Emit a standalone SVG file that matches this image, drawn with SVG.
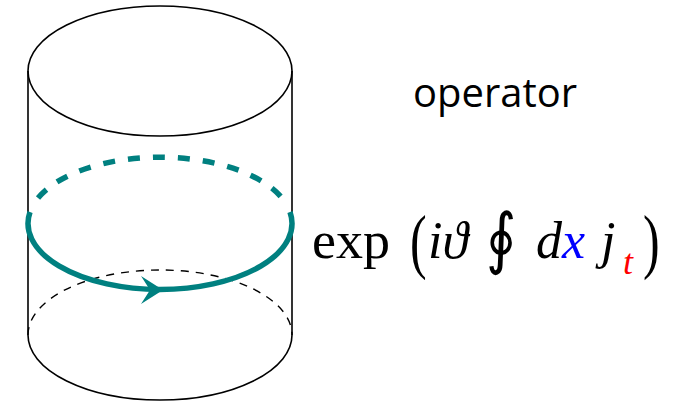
<svg xmlns="http://www.w3.org/2000/svg" width="690" height="402" viewBox="0 0 690 402">
<style>
.cyl{fill:none;stroke:#000;stroke-width:1.6}
.dash{fill:none;stroke:#000;stroke-width:1.4;stroke-dasharray:8 7}
.loop{fill:none;stroke:#008080;stroke-width:5.5}
.m{font-family:"Liberation Serif","DejaVu Serif",serif;fill:#000}
.mi{font-family:"Liberation Serif","DejaVu Serif",serif;font-style:italic}
</style>
<rect width="690" height="402" fill="#fff"/>
<g id="cylinder">
<ellipse class="cyl" cx="160" cy="71" rx="132" ry="65"/>
<line class="cyl" x1="28" y1="71" x2="28" y2="335"/>
<line class="cyl" x1="292" y1="71" x2="292" y2="335"/>
<path class="cyl" d="M28 335 A132 65 0 0 0 292 335"/>
<path class="dash" d="M28 335 A132 65 0 0 1 292 335"/>
</g>
<g id="loop">
<path class="loop" d="M38 198 A132 66 0 0 1 282 198" stroke-dasharray="12 13"/>
<path class="loop" d="M30 212 A132 66 0 1 0 290 212"/>
<path d="M163 290 L141 276 L150 290 L141 304 Z" fill="#008080"/>
</g>
<g id="label-operator">
<text x="413" y="107" font-family="'Open Sans','Liberation Sans',sans-serif" font-size="40" textLength="164" lengthAdjust="spacingAndGlyphs">operator</text>
</g>
<g id="formula">
<text class="m" x="312" y="258" font-size="52" textLength="78" lengthAdjust="spacingAndGlyphs">exp</text>
<text class="m" font-size="50" transform="translate(410,265) scale(1,1.45)">(</text>
<text class="mi" x="428" y="258" font-size="52">iϑ</text>
<text font-size="58" font-family="'DejaVu Sans',sans-serif" transform="translate(486,261) scale(1,1.15)">∮</text>
<text class="mi" x="536" y="258" font-size="52">d</text>
<text class="mi" x="562" y="258" font-size="52" fill="#0000ff">x</text>
<text class="mi" x="601" y="258" font-size="52">j</text>
<text class="mi" x="623" y="274" font-size="36" fill="#ff0000">t</text>
<text class="m" font-size="50" transform="translate(643,265) scale(1,1.45)">)</text>
</g>
</svg>
